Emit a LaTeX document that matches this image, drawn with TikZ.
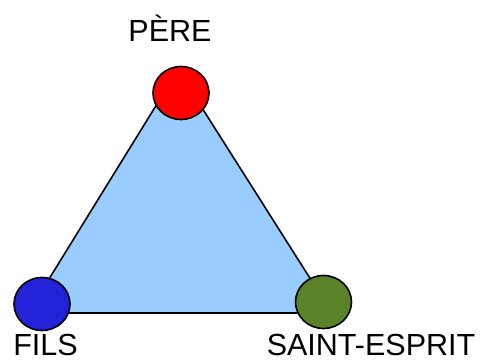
\documentclass[tikz,border=0pt]{standalone}
\usepackage{fontspec}
\setmainfont{Liberation Sans}
\usetikzlibrary{shapes.geometric}
\definecolor{trifill}{HTML}{99CCFF}
\definecolor{fillsblue}{HTML}{2222D8}
\definecolor{espritgreen}{HTML}{5A8228}
\begin{document}
\begin{tikzpicture}[x=1pt, y=-1pt, line width=1.6pt,
        person/.style={ellipse, draw, inner sep=0pt, minimum width=56pt, minimum height=53pt},
        personlabel/.style={font=\fontsize{30.5}{31}\selectfont, inner sep=0pt, anchor=base}]
        \useasboundingbox (0,0) rectangle (483,363);
        \coordinate (t1) at (178, 70);
        \coordinate (t2) at (28, 313);
        \coordinate (t3) at (332, 313);
        \draw[fill=trifill, line join=miter] (t1) -- (t2) -- (t3) -- cycle;
        \node[person, fill=red] (pere) at (181, 93) {};
        \node[person, fill=fillsblue] (fils) at (42, 304) {};
        \node[person, fill=espritgreen] (esprit) at (323.5, 302) {};
        \node[personlabel] (lpere) at (170, 42) {PÈRE};
        \node[personlabel] (lfils) at (45.5, 356) {FILS};
        \node[personlabel] (lesprit) at (371, 356) {SAINT-ESPRIT};
    \end{tikzpicture}
\end{document}
